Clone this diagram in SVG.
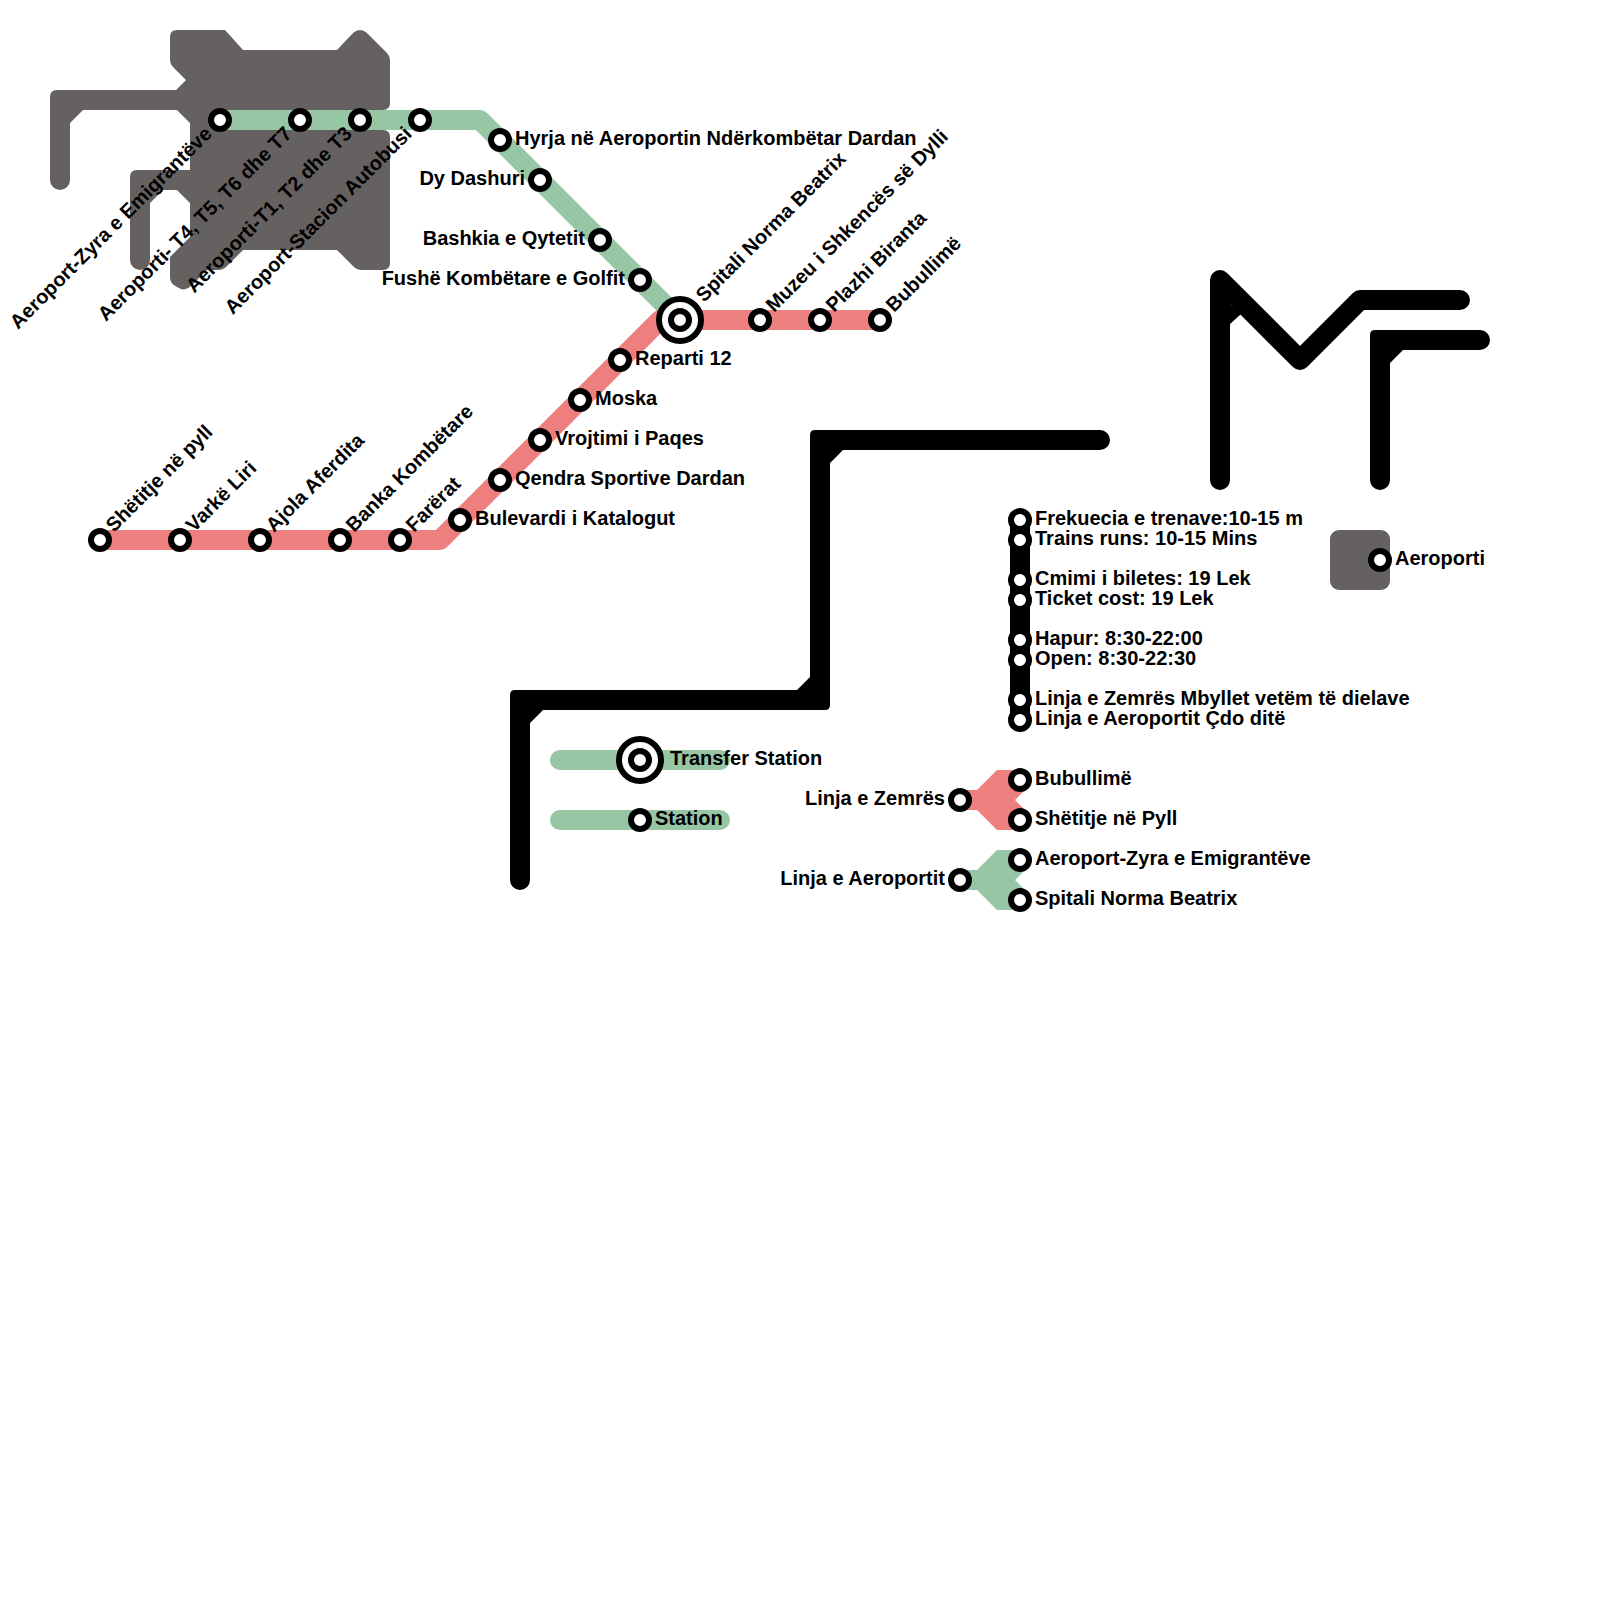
<svg xmlns="http://www.w3.org/2000/svg" width="1600" height="1600" viewBox="0 0 1600 1600">
<defs>
<style>
text{font-family:"Liberation Sans",Arial,sans-serif;font-weight:700;font-size:20px;fill:#000}
.e{text-anchor:end}
.ln{fill:none;stroke-width:20;stroke-linecap:round;stroke-linejoin:round}
.g{stroke:#97c6a4}.r{stroke:#ee7f7f}.k{stroke:#000}
.gf{fill:#656161}.kf{fill:#000}
.s{fill:#fff;stroke:#000;stroke-width:6}
</style>
<circle id="st" class="s" r="9"/>
<g id="tr"><circle class="s" r="21"/><circle class="s" r="9"/></g>
</defs>
<rect width="1600" height="1600" fill="#fff"/>
<g id="backgrounds">
<path id="airport-shape" class="gf" d="M177,30H225L243,50H337L353,33Q360,27 367,33L387,53Q390,56 390,60V103Q390,110 383,110H220V130H383Q390,130 390,137V263Q390,270 383,270H362Q357,270 354,267L337,250H243L226,267Q223,270 218,270H207L193,284Q185,293 177,287Q170,284 170,277V257L190,237V203L177,190H163L150,203V260A10,10 0 0 1 130,260V177Q130,170 137,170H190V123L177,110H83L70,123V180A10,10 0 0 1 50,180V97Q50,90 57,90H176L186,80L173,67Q170,64 170,60V37Q170,30 177,30Z"/>
<path id="black-route" class="kf" d="M510,880V695Q510,690 515,690H797L810,677V435Q810,430 815,430H1100A10,10 0 0 1 1100,450H843L830,463V705Q830,710 825,710H543L530,723V880A10,10 0 0 1 510,880Z"/>
<g id="m-shape"><path class="ln k" d="M1220,480V280L1300,360L1360,300H1460"/><path class="kf" d="M1229,303L1241,314L1229,325Z"/></g>
<path id="f-shape" class="kf" d="M1370,480V335Q1370,330 1375,330H1480A10,10 0 0 1 1480,350H1403L1390,363V480A10,10 0 0 1 1370,480Z"/>
<rect id="airport-key" class="gf" x="1330" y="530" width="60" height="60" rx="9"/>
</g>
<g id="connectors">
<path class="ln g" d="M220,120H480L680,320"/>
<path class="ln r" d="M100,540H440L660,320H880"/>
<path class="ln g" d="M560,760H720M560,820H720"/>
<path class="ln k" d="M1020,520V720"/>
<path fill="#ee7f7f" d="M960,790H977L997,770H1020V790H1025L1015,800L1025,810H1020V830H997L977,810H960Z"/>
<path fill="#97c6a4" d="M960,870H977L997,850H1020V870H1025L1015,880L1025,890H1020V910H997L977,890H960Z"/>
</g>
<g id="stations">
<g id="n1" transform="translate(220,120)"><use href="#st"/><text class="e" transform="translate(-7,15) rotate(-45)">Aeroport-Zyra e Emigrantëve</text></g>
<g id="n2" transform="translate(300,120)"><use href="#st"/><text class="e" transform="translate(-7,15) rotate(-45)">Aeroporti- T4, T5, T6 dhe T7</text></g>
<g id="n3" transform="translate(360,120)"><use href="#st"/><text class="e" transform="translate(-7,15) rotate(-45)">Aeroporti-T1, T2 dhe T3</text></g>
<g id="n4" transform="translate(420,120)"><use href="#st"/><text class="e" transform="translate(-7,15) rotate(-45)">Aeroport-Stacion Autobusi</text></g>
<g id="n5" transform="translate(500,140)"><use href="#st"/><text x="15" y="5">Hyrja në Aeroportin Ndërkombëtar Dardan</text></g>
<g id="n6" transform="translate(540,180)"><use href="#st"/><text class="e" x="-15" y="5">Dy Dashuri</text></g>
<g id="n7" transform="translate(600,240)"><use href="#st"/><text class="e" x="-15" y="5">Bashkia e Qytetit</text></g>
<g id="n8" transform="translate(640,280)"><use href="#st"/><text class="e" x="-15" y="5">Fushë Kombëtare e Golfit</text></g>
<g id="n9" transform="translate(680,320)"><use href="#tr"/><text transform="translate(24,-17) rotate(-45)">Spitali Norma Beatrix</text></g>
<g id="n10" transform="translate(760,320)"><use href="#st"/><text transform="translate(14,-7) rotate(-45)">Muzeu i Shkencës së Dylli</text></g>
<g id="n11" transform="translate(820,320)"><use href="#st"/><text transform="translate(14,-7) rotate(-45)">Plazhi Biranta</text></g>
<g id="n12" transform="translate(880,320)"><use href="#st"/><text transform="translate(14,-7) rotate(-45)">Bubullimë</text></g>
<g id="n13" transform="translate(620,360)"><use href="#st"/><text x="15" y="5">Reparti 12</text></g>
<g id="n14" transform="translate(580,400)"><use href="#st"/><text x="15" y="5">Moska</text></g>
<g id="n15" transform="translate(540,440)"><use href="#st"/><text x="15" y="5">Vrojtimi i Paqes</text></g>
<g id="n16" transform="translate(500,480)"><use href="#st"/><text x="15" y="5">Qendra Sportive Dardan</text></g>
<g id="n17" transform="translate(460,520)"><use href="#st"/><text x="15" y="5">Bulevardi i Katalogut</text></g>
<g id="n18" transform="translate(400,540)"><use href="#st"/><text transform="translate(14,-7) rotate(-45)">Farërat</text></g>
<g id="n19" transform="translate(340,540)"><use href="#st"/><text transform="translate(14,-7) rotate(-45)">Banka Kombëtare</text></g>
<g id="n20" transform="translate(260,540)"><use href="#st"/><text transform="translate(14,-7) rotate(-45)">Ajola Aferdita</text></g>
<g id="n21" transform="translate(180,540)"><use href="#st"/><text transform="translate(14,-7) rotate(-45)">Varkë Liri</text></g>
<g id="n22" transform="translate(100,540)"><use href="#st"/><text transform="translate(14,-7) rotate(-45)">Shëtitje në pyll</text></g>
<g id="k1" transform="translate(640,760)"><use href="#tr"/><text x="30" y="5">Transfer Station</text></g>
<g id="k2" transform="translate(640,820)"><use href="#st"/><text x="15" y="5">Station</text></g>
<g id="k3" transform="translate(960,800)"><use href="#st"/><text class="e" x="-15" y="5">Linja e Zemrës</text></g>
<g id="k4" transform="translate(1020,780)"><use href="#st"/><text x="15" y="5">Bubullimë</text></g>
<g id="k5" transform="translate(1020,820)"><use href="#st"/><text x="15" y="5">Shëtitje në Pyll</text></g>
<g id="k6" transform="translate(960,880)"><use href="#st"/><text class="e" x="-15" y="5">Linja e Aeroportit</text></g>
<g id="k7" transform="translate(1020,860)"><use href="#st"/><text x="15" y="5">Aeroport-Zyra e Emigrantëve</text></g>
<g id="k8" transform="translate(1020,900)"><use href="#st"/><text x="15" y="5">Spitali Norma Beatrix</text></g>
<g id="i1" transform="translate(1020,520)"><use href="#st"/><text x="15" y="5">Frekuecia e trenave:10-15 m</text></g>
<g id="i2" transform="translate(1020,540)"><use href="#st"/><text x="15" y="5">Trains runs: 10-15 Mins</text></g>
<g id="i3" transform="translate(1020,580)"><use href="#st"/><text x="15" y="5">Cmimi i biletes: 19 Lek</text></g>
<g id="i4" transform="translate(1020,600)"><use href="#st"/><text x="15" y="5">Ticket cost: 19 Lek</text></g>
<g id="i5" transform="translate(1020,640)"><use href="#st"/><text x="15" y="5">Hapur: 8:30-22:00</text></g>
<g id="i6" transform="translate(1020,660)"><use href="#st"/><text x="15" y="5">Open: 8:30-22:30</text></g>
<g id="i7" transform="translate(1020,700)"><use href="#st"/><text x="15" y="5">Linja e Zemrës Mbyllet vetëm të dielave</text></g>
<g id="i8" transform="translate(1020,720)"><use href="#st"/><text x="15" y="5">Linja e Aeroportit Çdo ditë</text></g>
<g id="k9" transform="translate(1380,560)"><use href="#st"/><text x="15" y="5">Aeroporti</text></g>
</g>
</svg>
